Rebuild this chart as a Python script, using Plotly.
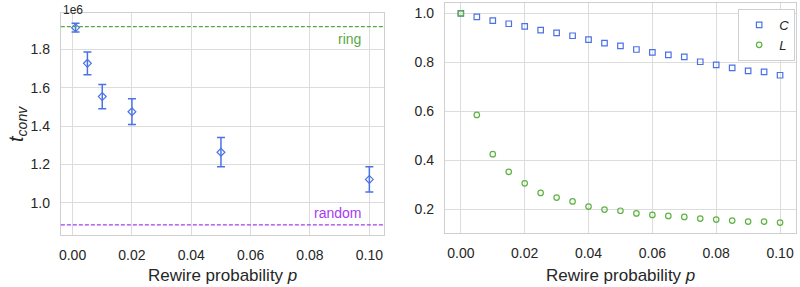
import plotly.graph_objects as go

# ---------------- data ----------------
p_conv = [0.001, 0.005, 0.01, 0.02, 0.05, 0.1]
t_conv = [1.913e6, 1.727e6, 1.554e6, 1.475e6, 1.264e6, 1.122e6]
t_err = [0.023e6, 0.059e6, 0.063e6, 0.067e6, 0.076e6, 0.066e6]
t_ring = 1.918e6
t_random = 0.885e6

p_grid = [0.0, 0.005, 0.01, 0.015, 0.02, 0.025, 0.03, 0.035, 0.04, 0.045, 0.05,
          0.055, 0.06, 0.065, 0.07, 0.075, 0.08, 0.085, 0.09, 0.095, 0.1]
C_vals = [1.0, 0.986, 0.971, 0.958, 0.947, 0.932, 0.921, 0.909, 0.893, 0.879, 0.868,
          0.853, 0.841, 0.831, 0.823, 0.803, 0.790, 0.778, 0.766, 0.762, 0.748]
L_vals = [1.0, 0.586, 0.426, 0.354, 0.307, 0.268, 0.249, 0.233, 0.212, 0.200, 0.195,
          0.184, 0.178, 0.174, 0.170, 0.163, 0.159, 0.155, 0.151, 0.151, 0.147]

x_ticks = [0.0, 0.02, 0.04, 0.06, 0.08, 0.10]
x_ticktext = ["0.00", "0.02", "0.04", "0.06", "0.08", "0.10"]
yl_ticks = [1.0e6, 1.2e6, 1.4e6, 1.6e6, 1.8e6]
yl_ticktext = ["1.0", "1.2", "1.4", "1.6", "1.8"]
yr_ticks = [0.2, 0.4, 0.6, 0.8, 1.0]
yr_ticktext = ["0.2", "0.4", "0.6", "0.8", "1.0"]

BLUE = "#4a72e6"
GREEN = "#5fb344"
RING = "#5aa845"
PURPLE = "#a53cf0"
GRID = "#dcdcdc"
SPINE = "#cfcfcf"
TXT = "#262626"
FONT = "Liberation Sans, Arial, sans-serif"

W, H = 800, 287

def px_x(px):
    return px / W

def px_y(py):
    return 1 - py / H

fig = go.Figure()

fig.add_trace(go.Scatter(
    x=p_conv, y=t_conv, mode="markers",
    marker=dict(symbol="diamond-open", size=6, color=BLUE, line=dict(width=1.2, color=BLUE)),
    error_y=dict(type="data", array=t_err, visible=True, color=BLUE, thickness=1.5, width=4),
    xaxis="x", yaxis="y", showlegend=False,
))

fig.add_trace(go.Scatter(
    x=p_grid, y=C_vals, mode="markers", name="<i>C</i>",
    marker=dict(symbol="square-open", size=5.5, color=BLUE, line=dict(width=1.2, color=BLUE)),
    xaxis="x2", yaxis="y2",
))
fig.add_trace(go.Scatter(
    x=p_grid, y=L_vals, mode="markers", name="<i>L</i>",
    marker=dict(symbol="circle-open", size=5.5, color=GREEN, line=dict(width=1.2, color=GREEN)),
    xaxis="x2", yaxis="y2",
))

axis_common = dict(
    showgrid=True, gridcolor=GRID, gridwidth=1,
    showline=True, linecolor=SPINE, linewidth=1, mirror=True,
    zeroline=False, ticks="outside", ticklen=7, tickcolor="rgba(0,0,0,0)",
    tickfont=dict(size=14, color=TXT, family=FONT),
)

fig.update_layout(
    width=W, height=H,
    margin=dict(l=0, r=0, t=0, b=0),
    paper_bgcolor="white", plot_bgcolor="white",
    font=dict(family=FONT, color=TXT),
    xaxis=dict(domain=[px_x(59), px_x(383)], range=[-0.00395, 0.10495], anchor="y",
               tickvals=x_ticks, ticktext=x_ticktext, **axis_common),
    yaxis=dict(domain=[px_y(235), px_y(13)], range=[0.8325e6, 1.9895e6], anchor="x",
               tickvals=yl_ticks, ticktext=yl_ticktext, **axis_common),
    xaxis2=dict(domain=[px_x(444), px_x(796)], range=[-0.005, 0.105], anchor="y2",
                tickvals=x_ticks, ticktext=x_ticktext, **axis_common),
    yaxis2=dict(domain=[px_y(233), px_y(3)], range=[0.1043, 1.0427], anchor="x2",
                tickvals=yr_ticks, ticktext=yr_ticktext, **axis_common),
    legend=dict(x=px_x(738), y=px_y(9), xanchor="left", yanchor="top",
                bgcolor="white", bordercolor=SPINE, borderwidth=1,
                font=dict(size=13, color=TXT, family=FONT),
                itemwidth=30, tracegroupgap=0),
    showlegend=True,
)

fig.add_shape(type="line", xref="x domain", yref="y", x0=0, x1=1, y0=t_ring, y1=t_ring,
              line=dict(color=RING, width=1.2, dash="4px,2px"))
fig.add_shape(type="line", xref="x domain", yref="y", x0=0, x1=1, y0=t_random, y1=t_random,
              line=dict(color=PURPLE, width=1.2, dash="4px,2px"))

fig.add_annotation(x=0.098, y=t_ring, xref="x", yref="y", text="ring", showarrow=False,
                   xanchor="right", yanchor="top", yshift=-2,
                   font=dict(size=14, color=RING, family=FONT))
fig.add_annotation(x=0.098, y=t_random, xref="x", yref="y", text="random", showarrow=False,
                   xanchor="right", yanchor="bottom", yshift=2,
                   font=dict(size=14, color=PURPLE, family=FONT))

fig.add_annotation(x=px_x(59), y=px_y(1), xref="paper", yref="paper", text="1e6",
                   showarrow=False, xanchor="left", yanchor="top",
                   font=dict(size=12, color=TXT, family=FONT))

fig.add_annotation(x=px_x(15), y=px_y(124), xref="paper", yref="paper",
                   text="<i>t</i><sub><i>conv</i></sub>", showarrow=False, textangle=-90,
                   xanchor="center", yanchor="middle",
                   font=dict(size=20, color=TXT, family=FONT))

fig.add_annotation(x=px_x(221), y=px_y(275), xref="paper", yref="paper",
                   text="Rewire probability <i>p</i>", showarrow=False,
                   xanchor="center", yanchor="middle",
                   font=dict(size=17, color=TXT, family=FONT))
fig.add_annotation(x=px_x(620), y=px_y(275), xref="paper", yref="paper",
                   text="Rewire probability <i>p</i>", showarrow=False,
                   xanchor="center", yanchor="middle",
                   font=dict(size=17, color=TXT, family=FONT))

fig.write_html("out.html", config={"displayModeBar": False},
               post_script="document.body.style.margin='0';document.body.style.overflow='hidden';")
